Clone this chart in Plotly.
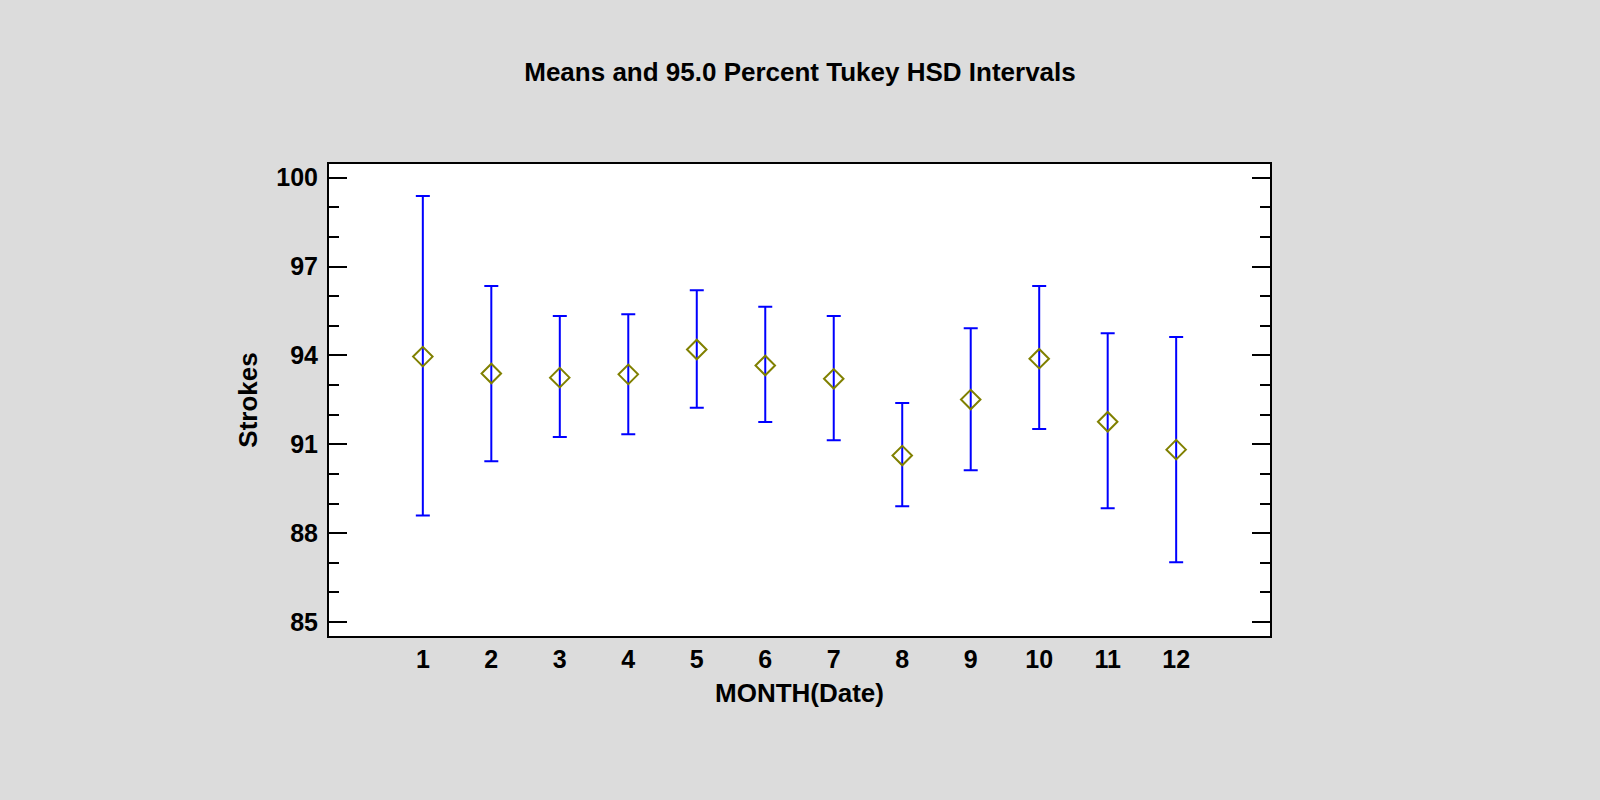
import plotly.graph_objects as go

months = [1, 2, 3, 4, 5, 6, 7, 8, 9, 10, 11, 12]
month_labels = ["1", "2", "3", "4", "5", "6", "7", "8", "9", "10", "11", "12"]
means = [93.96, 93.39, 93.25, 93.36, 94.20, 93.66, 93.21, 90.62, 92.51, 93.89, 91.76, 90.82]
upper = [99.38, 96.34, 95.33, 95.39, 96.20, 95.64, 95.33, 92.39, 94.92, 96.34, 94.75, 94.62]
lower = [88.60, 90.43, 91.25, 91.34, 92.23, 91.75, 91.14, 88.91, 90.12, 91.52, 88.84, 87.02]
y_ticks = [85, 88, 91, 94, 97, 100]

err_plus = [u - m for u, m in zip(upper, means)]
err_minus = [m - l for m, l in zip(means, lower)]

FONT = "Liberation Sans, Arial, sans-serif"

fig = go.Figure()
fig.add_trace(go.Scatter(
    x=months, y=means, mode="markers",
    marker=dict(symbol="diamond-open", size=15, color="#808000",
                line=dict(width=2, color="#808000")),
    error_y=dict(type="data", symmetric=False, array=err_plus, arrayminus=err_minus,
                 color="#0000ff", thickness=2, width=7),
    showlegend=False,
))

fig.update_layout(
    width=1600, height=800,
    paper_bgcolor="#dcdcdc", plot_bgcolor="#ffffff",
    margin=dict(l=329, r=330, t=164, b=164),
    title=dict(text="Means and 95.0 Percent Tukey HSD Intervals",
               x=0.5, xanchor="center", y=1 - 71.5 / 800, yanchor="middle",
               font=dict(family=FONT, size=26, color="#000000", weight="bold")),
    font=dict(family=FONT, color="#000000"),
)
fig.update_xaxes(
    range=[-0.37, 13.37], tickvals=months, ticktext=month_labels,
    ticks="", showgrid=False, zeroline=False,
    showline=True, linecolor="#000000", linewidth=2, mirror=True,
    tickfont=dict(family=FONT, size=25, color="#000000", weight="bold"),
    title=dict(text="MONTH(Date)", standoff=12,
               font=dict(family=FONT, size=26, color="#000000", weight="bold")),
)
fig.update_yaxes(
    range=[84.53, 100.46], tickvals=y_ticks, ticktext=[str(v) for v in y_ticks],
    ticks="inside", ticklen=18, tickwidth=2, tickcolor="#000000",
    minor=dict(dtick=1, tick0=85, ticks="inside", ticklen=10, tickwidth=2,
               tickcolor="#000000", showgrid=False),
    showgrid=False, zeroline=False,
    showline=True, linecolor="#000000", linewidth=2, mirror="allticks",
    tickfont=dict(family=FONT, size=25, color="#000000", weight="bold"),
    ticklabelstandoff=4,
    title=dict(text="Strokes", standoff=11,
               font=dict(family=FONT, size=26, color="#000000", weight="bold")),
)

fig.write_html("out.html", config={"displayModeBar": False},
               post_script="document.body.style.margin='0';")
